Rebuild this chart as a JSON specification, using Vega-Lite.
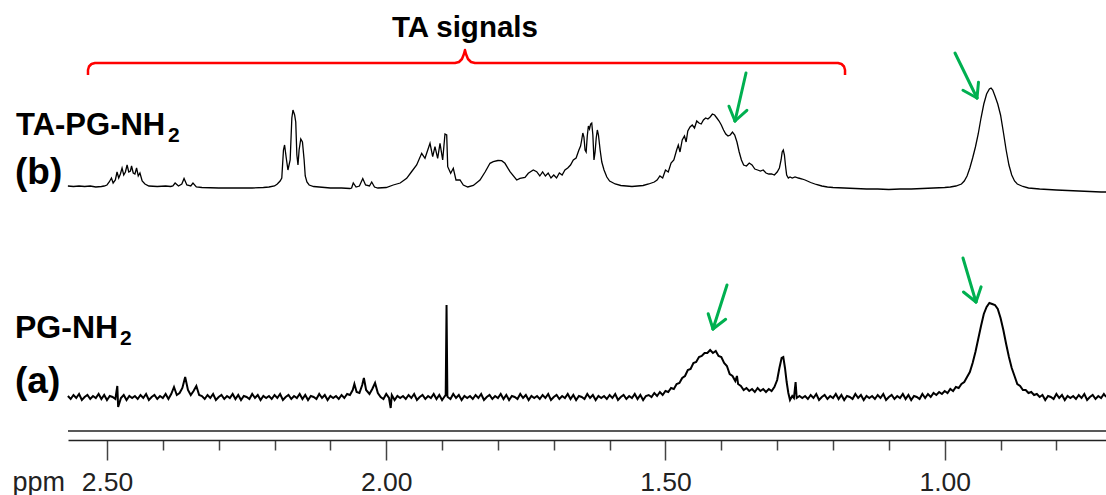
{
"$schema": "https://vega.github.io/schema/vega-lite/v6.json",
"width": 1038, "height": 440,
"autosize": "none",
"padding": {"left": 68, "top": 0, "right": 0, "bottom": 55},
"config": {"view": {"stroke": null}, "font": "Liberation Sans"},
"datasets": {
"b": [
{"p":2.570,"v":254},{"p":2.560,"v":253.5},{"p":2.550,"v":254},{"p":2.540,"v":253.5},{"p":2.530,"v":254},{"p":2.520,"v":253},{"p":2.510,"v":253.5},{"p":2.505,"v":254},{"p":2.500,"v":255},{"p":2.496,"v":258},{"p":2.492,"v":262},{"p":2.489,"v":257},{"p":2.485,"v":260},{"p":2.482,"v":268},{"p":2.479,"v":262},{"p":2.476,"v":266},{"p":2.473,"v":272},{"p":2.470,"v":265},{"p":2.467,"v":268},{"p":2.464,"v":275},{"p":2.461,"v":268},{"p":2.458,"v":269},{"p":2.456,"v":274},{"p":2.453,"v":267},{"p":2.450,"v":266},{"p":2.447,"v":272},{"p":2.444,"v":264},{"p":2.441,"v":267},{"p":2.437,"v":259},{"p":2.432,"v":256},{"p":2.425,"v":254},{"p":2.410,"v":253.5},{"p":2.395,"v":254},{"p":2.386,"v":253.5},{"p":2.382,"v":254},{"p":2.378,"v":257},{"p":2.372,"v":254},{"p":2.366,"v":256},{"p":2.362,"v":261.5},{"p":2.357,"v":255},{"p":2.350,"v":254},{"p":2.346,"v":257},{"p":2.340,"v":253},{"p":2.330,"v":252.5},{"p":2.300,"v":252},{"p":2.270,"v":252},{"p":2.240,"v":252},{"p":2.220,"v":252.5},{"p":2.210,"v":253},{"p":2.200,"v":254},{"p":2.195,"v":256},{"p":2.190,"v":259},{"p":2.187,"v":262},{"p":2.184,"v":290},{"p":2.182,"v":295},{"p":2.179,"v":282},{"p":2.176,"v":270},{"p":2.172,"v":280},{"p":2.169,"v":322},{"p":2.167,"v":330},{"p":2.164,"v":325},{"p":2.162,"v":318},{"p":2.160,"v":285},{"p":2.158,"v":275},{"p":2.156,"v":290},{"p":2.153,"v":301},{"p":2.150,"v":298},{"p":2.147,"v":280},{"p":2.145,"v":264},{"p":2.142,"v":258},{"p":2.138,"v":255},{"p":2.130,"v":253.5},{"p":2.120,"v":253},{"p":2.100,"v":252},{"p":2.080,"v":252},{"p":2.065,"v":251.5},{"p":2.062,"v":252},{"p":2.059,"v":257},{"p":2.054,"v":253},{"p":2.048,"v":254},{"p":2.042,"v":261.5},{"p":2.037,"v":255},{"p":2.030,"v":254},{"p":2.026,"v":258},{"p":2.021,"v":253},{"p":2.015,"v":252},{"p":2.000,"v":252.5},{"p":1.9874,"v":255},{"p":1.975,"v":257},{"p":1.9634,"v":261.7},{"p":1.955,"v":268},{"p":1.9455,"v":275},{"p":1.9365,"v":286.7},{"p":1.9306,"v":281.7},{"p":1.9216,"v":296.7},{"p":1.9168,"v":283.3},{"p":1.9127,"v":293.3},{"p":1.9079,"v":281.7},{"p":1.9037,"v":296.7},{"p":1.8989,"v":280},{"p":1.8948,"v":306},{"p":1.8917,"v":305},{"p":1.8899,"v":273.3},{"p":1.8846,"v":266.7},{"p":1.8799,"v":271.7},{"p":1.8751,"v":260},{"p":1.8679,"v":260},{"p":1.8620,"v":255},{"p":1.8540,"v":253},{"p":1.8440,"v":254.5},{"p":1.8321,"v":260},{"p":1.8230,"v":268},{"p":1.8142,"v":276.7},{"p":1.8083,"v":278.3},{"p":1.8000,"v":279.5},{"p":1.7933,"v":279.3},{"p":1.7874,"v":276.7},{"p":1.7784,"v":268.3},{"p":1.7664,"v":260},{"p":1.7605,"v":261.7},{"p":1.7515,"v":262.7},{"p":1.7456,"v":266.7},{"p":1.7367,"v":270},{"p":1.7306,"v":268.3},{"p":1.725,"v":264},{"p":1.720,"v":268},{"p":1.715,"v":264},{"p":1.710,"v":267},{"p":1.705,"v":262},{"p":1.700,"v":265},{"p":1.695,"v":262},{"p":1.690,"v":267},{"p":1.685,"v":265},{"p":1.680,"v":270},{"p":1.675,"v":272},{"p":1.670,"v":275},{"p":1.665,"v":280},{"p":1.660,"v":282},{"p":1.655,"v":290},{"p":1.652,"v":294},{"p":1.650,"v":300},{"p":1.648,"v":307},{"p":1.646,"v":303},{"p":1.644,"v":290},{"p":1.642,"v":288},{"p":1.640,"v":304},{"p":1.638,"v":314},{"p":1.636,"v":311},{"p":1.634,"v":316},{"p":1.632,"v":317},{"p":1.630,"v":305},{"p":1.628,"v":280},{"p":1.626,"v":288},{"p":1.624,"v":302},{"p":1.622,"v":310},{"p":1.620,"v":305},{"p":1.617,"v":290},{"p":1.614,"v":278},{"p":1.610,"v":270},{"p":1.605,"v":263},{"p":1.600,"v":259},{"p":1.590,"v":256},{"p":1.580,"v":254.5},{"p":1.570,"v":254},{"p":1.560,"v":253.5},{"p":1.550,"v":254},{"p":1.540,"v":254.5},{"p":1.530,"v":256},{"p":1.520,"v":258},{"p":1.515,"v":260},{"p":1.510,"v":264},{"p":1.505,"v":262},{"p":1.500,"v":270},{"p":1.495,"v":268},{"p":1.490,"v":277},{"p":1.485,"v":280},{"p":1.480,"v":290},{"p":1.477,"v":295},{"p":1.474,"v":288},{"p":1.470,"v":300},{"p":1.466,"v":304},{"p":1.463,"v":298},{"p":1.460,"v":309},{"p":1.456,"v":313},{"p":1.452,"v":315},{"p":1.448,"v":312},{"p":1.444,"v":319},{"p":1.440,"v":317},{"p":1.436,"v":316},{"p":1.432,"v":320},{"p":1.428,"v":322},{"p":1.424,"v":321},{"p":1.420,"v":323},{"p":1.416,"v":326},{"p":1.412,"v":325},{"p":1.408,"v":322},{"p":1.404,"v":319},{"p":1.400,"v":315},{"p":1.396,"v":310},{"p":1.392,"v":306},{"p":1.388,"v":304},{"p":1.384,"v":305},{"p":1.380,"v":308},{"p":1.376,"v":305},{"p":1.372,"v":298},{"p":1.368,"v":288},{"p":1.364,"v":280},{"p":1.360,"v":275},{"p":1.355,"v":274},{"p":1.350,"v":277},{"p":1.345,"v":275},{"p":1.340,"v":271},{"p":1.335,"v":270},{"p":1.330,"v":269},{"p":1.325,"v":270},{"p":1.320,"v":267},{"p":1.315,"v":266},{"p":1.310,"v":266},{"p":1.305,"v":265},{"p":1.300,"v":268},{"p":1.296,"v":272},{"p":1.293,"v":280},{"p":1.291,"v":288},{"p":1.289,"v":290},{"p":1.287,"v":285},{"p":1.285,"v":274},{"p":1.283,"v":265},{"p":1.280,"v":262},{"p":1.277,"v":263},{"p":1.273,"v":262},{"p":1.268,"v":263},{"p":1.262,"v":262},{"p":1.255,"v":261},{"p":1.250,"v":260},{"p":1.240,"v":257.5},{"p":1.230,"v":255.5},{"p":1.220,"v":254},{"p":1.210,"v":253},{"p":1.200,"v":252.5},{"p":1.180,"v":252},{"p":1.160,"v":251.5},{"p":1.140,"v":251},{"p":1.120,"v":251},{"p":1.100,"v":250.5},{"p":1.080,"v":251},{"p":1.060,"v":251},{"p":1.040,"v":251.5},{"p":1.020,"v":252},{"p":1.000,"v":252.5},{"p":0.990,"v":253},{"p":0.980,"v":254},{"p":0.970,"v":256},{"p":0.965,"v":259},{"p":0.960,"v":264},{"p":0.955,"v":272},{"p":0.950,"v":282},{"p":0.945,"v":293},{"p":0.940,"v":306},{"p":0.935,"v":322},{"p":0.930,"v":336},{"p":0.925,"v":346},{"p":0.920,"v":351},{"p":0.917,"v":352},{"p":0.914,"v":350},{"p":0.910,"v":344},{"p":0.905,"v":336},{"p":0.900,"v":325},{"p":0.895,"v":308},{"p":0.890,"v":290},{"p":0.885,"v":275},{"p":0.880,"v":265},{"p":0.875,"v":259},{"p":0.870,"v":256},{"p":0.860,"v":253.5},{"p":0.850,"v":252},{"p":0.830,"v":251},{"p":0.800,"v":250},{"p":0.780,"v":249.5},{"p":0.760,"v":249},{"p":0.740,"v":248.5},{"p":0.720,"v":248},{"p":0.711,"v":248}
],
"a": [
{"p":2.570,"v":44},{"p":2.565,"v":41},{"p":2.560,"v":45},{"p":2.555,"v":42},{"p":2.550,"v":46},{"p":2.545,"v":40},{"p":2.540,"v":43},{"p":2.535,"v":45},{"p":2.530,"v":41},{"p":2.525,"v":44},{"p":2.520,"v":42},{"p":2.515,"v":46},{"p":2.510,"v":41},{"p":2.505,"v":45},{"p":2.500,"v":40},{"p":2.495,"v":44},{"p":2.490,"v":43},{"p":2.485,"v":41},{"p":2.4815,"v":54},{"p":2.480,"v":33},{"p":2.475,"v":42},{"p":2.470,"v":45},{"p":2.465,"v":40},{"p":2.460,"v":44},{"p":2.455,"v":42},{"p":2.450,"v":44},{"p":2.445,"v":41},{"p":2.440,"v":45},{"p":2.435,"v":42},{"p":2.430,"v":46},{"p":2.425,"v":40},{"p":2.420,"v":43},{"p":2.415,"v":45},{"p":2.410,"v":41},{"p":2.405,"v":44},{"p":2.400,"v":42},{"p":2.395,"v":46},{"p":2.390,"v":41},{"p":2.385,"v":46},{"p":2.380,"v":53},{"p":2.375,"v":45},{"p":2.370,"v":47},{"p":2.365,"v":52},{"p":2.360,"v":63},{"p":2.355,"v":50},{"p":2.350,"v":45},{"p":2.345,"v":49},{"p":2.340,"v":54},{"p":2.335,"v":45},{"p":2.330,"v":44},{"p":2.325,"v":41},{"p":2.320,"v":45},{"p":2.315,"v":42},{"p":2.310,"v":46},{"p":2.305,"v":40},{"p":2.300,"v":43},{"p":2.295,"v":45},{"p":2.290,"v":41},{"p":2.285,"v":44},{"p":2.280,"v":42},{"p":2.275,"v":46},{"p":2.270,"v":41},{"p":2.265,"v":45},{"p":2.260,"v":40},{"p":2.255,"v":44},{"p":2.250,"v":43},{"p":2.245,"v":41},{"p":2.240,"v":46},{"p":2.235,"v":42},{"p":2.230,"v":45},{"p":2.225,"v":40},{"p":2.220,"v":44},{"p":2.215,"v":42},{"p":2.210,"v":44},{"p":2.205,"v":41},{"p":2.200,"v":45},{"p":2.195,"v":42},{"p":2.190,"v":46},{"p":2.185,"v":40},{"p":2.180,"v":43},{"p":2.175,"v":45},{"p":2.170,"v":41},{"p":2.165,"v":44},{"p":2.160,"v":42},{"p":2.155,"v":46},{"p":2.150,"v":41},{"p":2.145,"v":45},{"p":2.140,"v":40},{"p":2.135,"v":44},{"p":2.130,"v":43},{"p":2.125,"v":41},{"p":2.120,"v":46},{"p":2.115,"v":42},{"p":2.110,"v":45},{"p":2.105,"v":40},{"p":2.100,"v":44},{"p":2.095,"v":42},{"p":2.090,"v":44},{"p":2.085,"v":41},{"p":2.080,"v":45},{"p":2.075,"v":42},{"p":2.070,"v":46},{"p":2.065,"v":45},{"p":2.060,"v":50},{"p":2.057,"v":56},{"p":2.053,"v":48},{"p":2.048,"v":47},{"p":2.043,"v":55},{"p":2.040,"v":62},{"p":2.036,"v":50},{"p":2.030,"v":46},{"p":2.025,"v":51},{"p":2.020,"v":57},{"p":2.015,"v":47},{"p":2.010,"v":43},{"p":2.005,"v":41},{"p":2.000,"v":46},{"p":1.995,"v":42},{"p":1.992,"v":32},{"p":1.990,"v":45},{"p":1.985,"v":40},{"p":1.980,"v":44},{"p":1.975,"v":42},{"p":1.970,"v":44},{"p":1.965,"v":41},{"p":1.960,"v":45},{"p":1.955,"v":42},{"p":1.950,"v":46},{"p":1.945,"v":40},{"p":1.940,"v":43},{"p":1.935,"v":45},{"p":1.930,"v":41},{"p":1.925,"v":44},{"p":1.920,"v":42},{"p":1.915,"v":46},{"p":1.910,"v":41},{"p":1.905,"v":45},{"p":1.900,"v":40},{"p":1.895,"v":44},{"p":1.8935,"v":45},{"p":1.892,"v":135},{"p":1.8905,"v":44},{"p":1.890,"v":43},{"p":1.885,"v":41},{"p":1.880,"v":46},{"p":1.875,"v":42},{"p":1.870,"v":45},{"p":1.865,"v":40},{"p":1.860,"v":44},{"p":1.855,"v":42},{"p":1.850,"v":44},{"p":1.845,"v":41},{"p":1.840,"v":45},{"p":1.835,"v":42},{"p":1.830,"v":46},{"p":1.825,"v":40},{"p":1.820,"v":43},{"p":1.815,"v":45},{"p":1.810,"v":41},{"p":1.805,"v":44},{"p":1.800,"v":42},{"p":1.795,"v":46},{"p":1.790,"v":41},{"p":1.785,"v":45},{"p":1.780,"v":40},{"p":1.775,"v":44},{"p":1.770,"v":43},{"p":1.765,"v":41},{"p":1.760,"v":46},{"p":1.755,"v":42},{"p":1.750,"v":45},{"p":1.745,"v":40},{"p":1.740,"v":44},{"p":1.735,"v":42},{"p":1.730,"v":44},{"p":1.725,"v":41},{"p":1.720,"v":45},{"p":1.715,"v":42},{"p":1.710,"v":46},{"p":1.705,"v":40},{"p":1.700,"v":43},{"p":1.695,"v":45},{"p":1.690,"v":41},{"p":1.685,"v":44},{"p":1.680,"v":42},{"p":1.675,"v":46},{"p":1.670,"v":41},{"p":1.665,"v":45},{"p":1.660,"v":40},{"p":1.655,"v":44},{"p":1.650,"v":43},{"p":1.645,"v":41},{"p":1.640,"v":46},{"p":1.635,"v":42},{"p":1.630,"v":45},{"p":1.625,"v":40},{"p":1.620,"v":44},{"p":1.615,"v":42},{"p":1.610,"v":44},{"p":1.605,"v":41},{"p":1.600,"v":45},{"p":1.595,"v":42},{"p":1.590,"v":46},{"p":1.585,"v":40},{"p":1.580,"v":43},{"p":1.575,"v":45},{"p":1.570,"v":41},{"p":1.565,"v":44},{"p":1.560,"v":42},{"p":1.555,"v":46},{"p":1.550,"v":41},{"p":1.545,"v":45},{"p":1.540,"v":40},{"p":1.535,"v":44},{"p":1.530,"v":45},{"p":1.525,"v":43},{"p":1.520,"v":47},{"p":1.515,"v":44},{"p":1.510,"v":48},{"p":1.505,"v":45},{"p":1.500,"v":49},{"p":1.495,"v":48},{"p":1.490,"v":52},{"p":1.485,"v":51},{"p":1.480,"v":56},{"p":1.475,"v":57},{"p":1.470,"v":62},{"p":1.465,"v":64},{"p":1.460,"v":70},{"p":1.455,"v":71},{"p":1.450,"v":77},{"p":1.445,"v":78},{"p":1.440,"v":83},{"p":1.435,"v":84},{"p":1.430,"v":87},{"p":1.425,"v":87},{"p":1.420,"v":90},{"p":1.415,"v":87},{"p":1.410,"v":89},{"p":1.405,"v":84},{"p":1.400,"v":83},{"p":1.395,"v":77},{"p":1.390,"v":74},{"p":1.385,"v":66},{"p":1.380,"v":64},{"p":1.375,"v":59},{"p":1.372,"v":64},{"p":1.370,"v":56},{"p":1.365,"v":54},{"p":1.360,"v":50},{"p":1.355,"v":52},{"p":1.350,"v":49},{"p":1.345,"v":51},{"p":1.340,"v":48},{"p":1.335,"v":52},{"p":1.330,"v":49},{"p":1.325,"v":51},{"p":1.320,"v":48},{"p":1.315,"v":51},{"p":1.310,"v":49},{"p":1.305,"v":53},{"p":1.300,"v":60},{"p":1.296,"v":72},{"p":1.292,"v":82},{"p":1.289,"v":83},{"p":1.286,"v":72},{"p":1.283,"v":58},{"p":1.280,"v":47},{"p":1.277,"v":40},{"p":1.273,"v":44},{"p":1.270,"v":42},{"p":1.267,"v":58},{"p":1.265,"v":42},{"p":1.260,"v":44},{"p":1.255,"v":42},{"p":1.250,"v":44},{"p":1.245,"v":41},{"p":1.240,"v":45},{"p":1.235,"v":42},{"p":1.230,"v":46},{"p":1.225,"v":40},{"p":1.220,"v":43},{"p":1.215,"v":45},{"p":1.210,"v":41},{"p":1.205,"v":44},{"p":1.200,"v":42},{"p":1.195,"v":46},{"p":1.190,"v":41},{"p":1.185,"v":45},{"p":1.180,"v":40},{"p":1.175,"v":44},{"p":1.170,"v":43},{"p":1.165,"v":41},{"p":1.160,"v":46},{"p":1.155,"v":42},{"p":1.150,"v":45},{"p":1.145,"v":40},{"p":1.140,"v":44},{"p":1.135,"v":42},{"p":1.130,"v":44},{"p":1.125,"v":41},{"p":1.120,"v":45},{"p":1.115,"v":42},{"p":1.110,"v":46},{"p":1.105,"v":40},{"p":1.100,"v":43},{"p":1.095,"v":45},{"p":1.090,"v":41},{"p":1.085,"v":44},{"p":1.080,"v":42},{"p":1.075,"v":46},{"p":1.070,"v":41},{"p":1.065,"v":45},{"p":1.060,"v":40},{"p":1.055,"v":44},{"p":1.050,"v":43},{"p":1.045,"v":41},{"p":1.040,"v":46},{"p":1.035,"v":42},{"p":1.030,"v":46},{"p":1.025,"v":43},{"p":1.020,"v":47},{"p":1.015,"v":45},{"p":1.010,"v":48},{"p":1.005,"v":46},{"p":1.000,"v":49},{"p":0.995,"v":47},{"p":0.990,"v":51},{"p":0.985,"v":49},{"p":0.980,"v":53},{"p":0.975,"v":52},{"p":0.970,"v":56},{"p":0.965,"v":58},{"p":0.960,"v":63},{"p":0.955,"v":68},{"p":0.950,"v":77},{"p":0.945,"v":88},{"p":0.940,"v":101},{"p":0.935,"v":114},{"p":0.930,"v":126},{"p":0.925,"v":133},{"p":0.920,"v":137},{"p":0.915,"v":136},{"p":0.910,"v":135},{"p":0.905,"v":131},{"p":0.900,"v":122},{"p":0.895,"v":110},{"p":0.890,"v":96},{"p":0.885,"v":83},{"p":0.880,"v":72},{"p":0.875,"v":64},{"p":0.870,"v":56},{"p":0.865,"v":54},{"p":0.860,"v":50},{"p":0.855,"v":50},{"p":0.850,"v":47},{"p":0.845,"v":48},{"p":0.840,"v":45},{"p":0.835,"v":46},{"p":0.830,"v":43},{"p":0.825,"v":45},{"p":0.820,"v":40},{"p":0.815,"v":44},{"p":0.810,"v":43},{"p":0.805,"v":41},{"p":0.800,"v":46},{"p":0.795,"v":42},{"p":0.790,"v":45},{"p":0.785,"v":40},{"p":0.780,"v":44},{"p":0.775,"v":42},{"p":0.770,"v":44},{"p":0.765,"v":41},{"p":0.760,"v":45},{"p":0.755,"v":42},{"p":0.750,"v":46},{"p":0.745,"v":40},{"p":0.740,"v":43},{"p":0.735,"v":45},{"p":0.730,"v":41},{"p":0.725,"v":44},{"p":0.720,"v":42},{"p":0.715,"v":46},{"p":0.711,"v":43}
],
"brace": [
{"i":0,"p":2.5340,"v":365},{"i":1,"p":2.5340,"v":370},{"i":2,"p":2.5322,"v":373.5},{"i":3,"p":2.5278,"v":376},{"i":4,"p":2.5215,"v":377},{"i":5,"p":1.8769,"v":377},{"i":6,"p":1.8697,"v":378},{"i":7,"p":1.8644,"v":381},{"i":8,"p":1.8608,"v":386},{"i":9,"p":1.8590,"v":390},{"i":10,"p":1.8572,"v":386},{"i":11,"p":1.8536,"v":381},{"i":12,"p":1.8482,"v":378},{"i":13,"p":1.8411,"v":377},{"i":14,"p":1.1911,"v":377},{"i":15,"p":1.1848,"v":376},{"i":16,"p":1.1803,"v":373.5},{"i":17,"p":1.1785,"v":370},{"i":18,"p":1.1785,"v":365}
],
"arrows": [
{"p":1.3558,"v":367,"p2":1.3755,"v2":319},{"p":1.3755,"v":319,"p2":1.3542,"v2":329.7},{"p":1.3755,"v":319,"p2":1.3863,"v2":333.8},
{"p":0.9816,"v":387,"p2":0.9422,"v2":342},{"p":0.9422,"v":342,"p2":0.9395,"v2":357.8},{"p":0.9422,"v":342,"p2":0.9673,"v2":349.7},
{"p":1.3898,"v":155,"p2":1.4149,"v2":111},{"p":1.4149,"v":111,"p2":1.3922,"v2":120.7},{"p":1.4149,"v":111,"p2":1.4235,"v2":126.3},
{"p":0.9673,"v":182,"p2":0.9440,"v2":138},{"p":0.9440,"v":138,"p2":0.9348,"v2":153.2},{"p":0.9440,"v":138,"p2":0.9664,"v2":148}
]
},
"layer": [
{"data": {"name": "b"}, "mark": {"type": "line", "color": "#000", "strokeWidth": 1.3},
 "encoding": {
  "x": {"field": "p", "type": "quantitative",
   "scale": {"domain": [0.7112, 2.5698], "reverse": true, "nice": false, "zero": false},
   "axis": {"values": [2.5,2.4,2.3,2.2,2.1,2.0,1.9,1.8,1.7,1.6,1.5,1.4,1.3,1.2,1.1,1.0,0.9,0.8],
    "format": ".2f",
    "labelExpr": "abs(datum.value*2 - round(datum.value*2)) < 0.01 ? datum.label : ''",
    "tickSize": {"condition": {"test": "abs(datum.value*2 - round(datum.value*2)) < 0.01", "value": 20}, "value": 10},
    "tickColor": "#444", "tickWidth": 1.5, "domainColor": "#222", "domainWidth": 1.5,
    "labelFont": "Liberation Sans", "labelFontSize": 26.5, "labelColor": "#222", "labelPadding": 9,
    "labelOverlap": false, "labelFlush": false, "grid": false,
    "title": "ppm", "titleFont": "Liberation Sans", "titleFontSize": 27, "titleFontWeight": "normal", "titleColor": "#222",
    "titleX": -56, "titleY": 50, "titleAlign": "left", "titleBaseline": "alphabetic", "titleAnchor": "start"}},
  "y": {"field": "v", "type": "quantitative", "scale": {"domain": [0, 440], "nice": false, "zero": false}, "axis": null}
 }},
{"data": {"name": "a"}, "mark": {"type": "line", "color": "#000", "strokeWidth": 2},
 "encoding": {"x": {"field": "p", "type": "quantitative"}, "y": {"field": "v", "type": "quantitative"}}},
{"data": {"values": [{}]}, "mark": {"type": "rule", "color": "#222", "strokeWidth": 1.5},
 "encoding": {"y": {"datum": 9, "type": "quantitative"}}},
{"data": {"name": "brace"}, "mark": {"type": "line", "color": "#ff0000", "strokeWidth": 2.5, "strokeJoin": "round"},
 "encoding": {"x": {"field": "p", "type": "quantitative"}, "y": {"field": "v", "type": "quantitative"}, "order": {"field": "i", "type": "quantitative"}}},
{"data": {"name": "arrows"}, "mark": {"type": "rule", "color": "#00b050", "strokeWidth": 3, "strokeCap": "round"},
 "encoding": {"x": {"field": "p", "type": "quantitative"}, "y": {"field": "v", "type": "quantitative"}, "x2": {"field": "p2"}, "y2": {"field": "v2"}}},
{"data": {"values": [{"t": "TA signals", "p": 1.859, "v": 403}]},
 "mark": {"type": "text", "font": "Liberation Sans", "fontWeight": "bold", "fontSize": 29.5, "align": "center", "baseline": "alphabetic", "color": "#000"},
 "encoding": {"x": {"field": "p", "type": "quantitative"}, "y": {"field": "v", "type": "quantitative"}, "text": {"field": "t"}}},
{"data": {"values": [{"t": "TA-PG-NH", "p": 2.6629, "v": 305}]},
 "mark": {"type": "text", "font": "Liberation Sans", "fontWeight": "bold", "fontSize": 31, "align": "left", "baseline": "alphabetic", "color": "#000"},
 "encoding": {"x": {"field": "p", "type": "quantitative"}, "y": {"field": "v", "type": "quantitative"}, "text": {"field": "t"}}},
{"data": {"values": [{"t": "PG-NH", "p": 2.6647, "v": 102}]},
 "mark": {"type": "text", "font": "Liberation Sans", "fontWeight": "bold", "fontSize": 32, "align": "left", "baseline": "alphabetic", "color": "#000"},
 "encoding": {"x": {"field": "p", "type": "quantitative"}, "y": {"field": "v", "type": "quantitative"}, "text": {"field": "t"}}},
{"data": {"values": [{"t": "2", "p": 2.3908, "v": 298}, {"t": "2", "p": 2.4767, "v": 95}]},
 "mark": {"type": "text", "font": "Liberation Sans", "fontWeight": "bold", "fontSize": 21, "align": "left", "baseline": "alphabetic", "color": "#000"},
 "encoding": {"x": {"field": "p", "type": "quantitative"}, "y": {"field": "v", "type": "quantitative"}, "text": {"field": "t"}}},
{"data": {"values": [{"t": "(b)", "p": 2.6647, "v": 256}, {"t": "(a)", "p": 2.6647, "v": 47}]},
 "mark": {"type": "text", "font": "Liberation Sans", "fontWeight": "bold", "fontSize": 37, "align": "left", "baseline": "alphabetic", "color": "#000"},
 "encoding": {"x": {"field": "p", "type": "quantitative"}, "y": {"field": "v", "type": "quantitative"}, "text": {"field": "t"}}}
]
}
